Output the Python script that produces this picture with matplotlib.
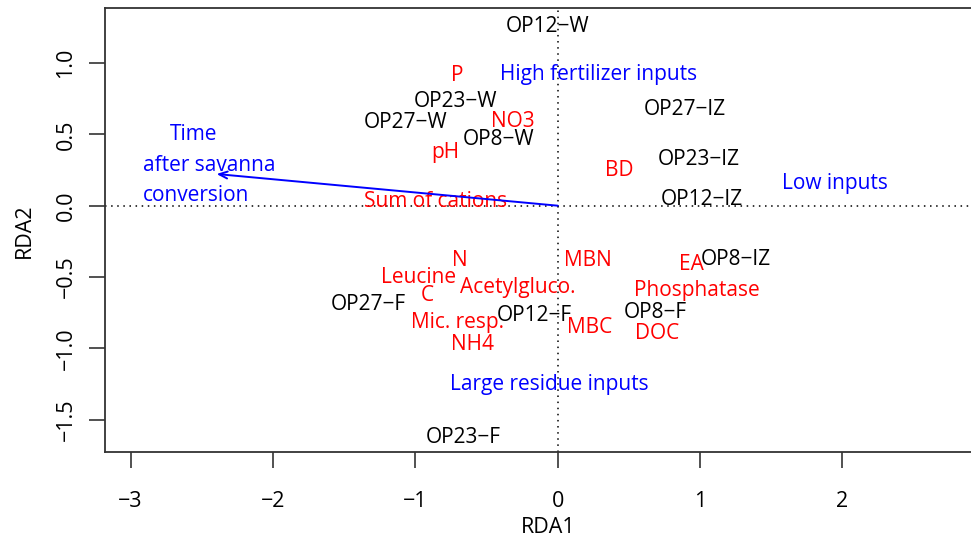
import numpy as np
import matplotlib
matplotlib.use("Agg")
import matplotlib.pyplot as plt

# fonts
plt.rcParams['font.family'] = ['Open Sans', 'DejaVu Sans']
plt.rcParams['axes.unicode_minus'] = True

# site scores (black labels)
sites = ["OP12−W", "OP23−W", "OP27−W", "OP8−W",
         "OP27−IZ", "OP23−IZ", "OP12−IZ", "OP8−IZ",
         "OP27−F", "OP12−F", "OP23−F", "OP8−F"]
site_x = [-0.07, -0.716, -1.067, -0.415, 0.895, 0.988, 1.012, 1.249,
          -1.331, -0.165, -0.663, 0.684]
site_y = [1.273, 0.746, 0.60, 0.484, 0.694, 0.343, 0.063, -0.357,
          -0.673, -0.754, -1.607, -0.732]

# response variables (red labels)
variables = ["P", "NO3", "pH", "BD", "Sum of cations", "N", "MBN", "Leucine",
             "C", "Acetylgluco.", "Mic. resp.", "NH4", "MBC", "EA",
             "Phosphatase", "DOC"]
var_x = [-0.704, -0.312, -0.792, 0.431, -0.857, -0.687, 0.209, -0.98,
         -0.915, -0.283, -0.704, -0.602, 0.227, 0.942, 0.979, 0.698]
var_y = [0.932, 0.608, 0.39, 0.266, 0.047, -0.369, -0.369, -0.486,
         -0.614, -0.556, -0.801, -0.953, -0.836, -0.392, -0.579, -0.878]

# management groups (blue labels)
groups = ["High fertilizer inputs", "Low inputs", "Large residue inputs"]
group_x = [0.29, 1.945, -0.061]
group_y = [0.937, 0.173, -1.235]

# explanatory vector: time after savanna conversion
time_vec = (-2.396, 0.222)
time_lines = ["Time", "after savanna", "conversion"]
time_x = [-2.56, -2.45, -2.54]
time_y = [0.519, 0.298, 0.092]

fig = plt.figure(figsize=(9.71, 5.43), dpi=100)
ax = fig.add_axes([0.1081, 0.167, 0.9135, 0.8177])

ax.set_xlim(-3.18, 3.05)
ax.set_ylim(-1.728, 1.383)

# reference lines through the origin
ax.axhline(0, color='black', ls=(0, (1, 3)), lw=1.1, zorder=1)
ax.axvline(0, color='black', ls=(0, (1, 3)), lw=1.1, zorder=1)

fs = 15
for name, x, y in zip(sites, site_x, site_y):
    ax.text(x, y, name, color='black', fontsize=fs, ha='center',
            va='center_baseline')
for name, x, y in zip(variables, var_x, var_y):
    ax.text(x, y, name, color='red', fontsize=fs, ha='center',
            va='center_baseline')
for name, x, y in zip(groups, group_x, group_y):
    ax.text(x, y, name, color='blue', fontsize=fs, ha='center',
            va='center_baseline')
for name, x, y in zip(time_lines, time_x, time_y):
    ax.text(x, y, name, color='blue', fontsize=fs, ha='center',
            va='center_baseline')

ax.annotate('', xy=time_vec, xytext=(0, 0),
            arrowprops=dict(arrowstyle='->,head_length=0.6,head_width=0.25',
                            color='blue', lw=1.4, shrinkA=0, shrinkB=0))

# axes styling
ax.set_xticks([-3, -2, -1, 0, 1, 2, 3])
ax.set_yticks([-1.5, -1.0, -0.5, 0.0, 0.5, 1.0])
ax.set_yticklabels(["−1.5", "−1.0", "−0.5", "0.0", "0.5", "1.0"])
ax.tick_params(axis='both', length=11.5, width=1.2, color='#333333',
               labelsize=15.5)
ax.tick_params(axis='x', pad=16)
ax.tick_params(axis='y', pad=9)
for lab in ax.get_yticklabels():
    lab.set_rotation(90)
    lab.set_va('center')
for sp in ax.spines.values():
    sp.set_color('#333333')
    sp.set_linewidth(1.3)

ax.set_xlabel("RDA1", fontsize=15.5, labelpad=4)
ax.set_ylabel("RDA2", fontsize=15.5, labelpad=15)

fig.savefig("out.png", dpi=100)
